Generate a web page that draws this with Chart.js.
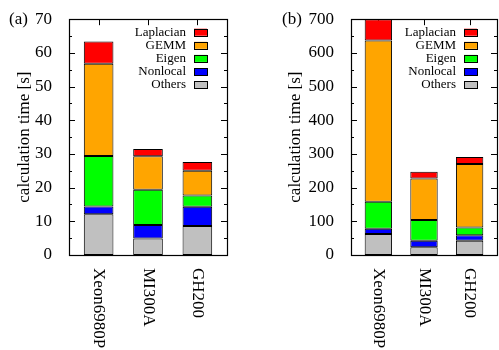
<!DOCTYPE html>
<html>
<head>
<meta charset="utf-8">
<script src="https://cdn.jsdelivr.net/npm/chart.js@4.4.0/dist/chart.umd.min.js"></script>
<style>
	body { margin: 0; background: #fff; }
	#wrap { position: relative; width: 499px; height: 350px; }
	#chartA { position: absolute; left: 0; top: 0; }
	#chartB { position: absolute; left: 250px; top: 0; }
</style>
</head>
<body>
<div id="wrap">
	<canvas id="chartA" width="250" height="350"></canvas>
	<canvas id="chartB" width="249" height="350"></canvas>
</div>
<script>

// machines on the x axis
var machines = ["Xeon6980P", "MI300A", "GH200"];
var xPos = [0, 1, 2];

// parts, stacked bottom to top
var parts = ["Others", "Nonlocal", "Eigen", "GEMM", "Laplacian"];
var partColors = ["#c0c0c0", "#0000ff", "#00ff00", "#ffa500", "#ff0000"];

// (a) calculation time [s]
var othersA    = [12.1, 4.9, 8.6];
var nonlocalA  = [2.3, 4.0, 5.7];
var eigenA     = [15.0, 10.5, 3.4];
var gemmA      = [27.4, 9.9, 7.3];
var laplacianA = [6.6, 2.2, 2.6];
var yMaxA = 70, yStepA = 10;

// (b) calculation time [s]
var othersB    = [62, 23, 42];
var nonlocalB  = [16, 19, 17];
var eigenB     = [80, 62, 23];
var gemmB      = [479, 123, 188];
var laplacianB = [63, 20, 21];
var yMaxB = 700, yStepB = 100;

var SERIF = "'Liberation Serif', 'DejaVu Serif', serif";

function toPoints(values){
	return values.map(function(v, i){ return { x: xPos[i], y: v }; });
}

// gnuplot-like frame, inward ticks, legend inside, rotated x labels
var gnuplotLook = {
	id: 'gnuplotLook',
	beforeDatasetsDraw: function(chart){
		var ctx = chart.ctx;
		var a = chart.chartArea;
		var ys = chart.scales.y;
		var xs = chart.scales.x;
		ctx.save();
		ctx.strokeStyle = "#000";
		ctx.lineWidth = 1;
		ctx.beginPath();
		ys.ticks.forEach(function(t, i){
			var py = Math.round(ys.getPixelForValue(t.value)) + 0.5;
			ctx.moveTo(a.left, py); ctx.lineTo(a.left + 6, py);
			ctx.moveTo(a.right, py); ctx.lineTo(a.right - 6, py);
			if (i < ys.ticks.length - 1){
				var my = Math.round(ys.getPixelForValue(t.value + chart.options.minorStep)) + 0.5;
				ctx.moveTo(a.left, my); ctx.lineTo(a.left + 3, my);
				ctx.moveTo(a.right, my); ctx.lineTo(a.right - 3, my);
			}
		});
		xPos.forEach(function(v){
			var px = Math.round(xs.getPixelForValue(v)) + 0.5;
			ctx.moveTo(px, a.top); ctx.lineTo(px, a.top + 6);
			ctx.moveTo(px, a.bottom); ctx.lineTo(px, a.bottom - 6);
		});
		ctx.stroke();
		ctx.restore();
	},
	afterDatasetsDraw: function(chart){
		var ctx = chart.ctx;
		var a = chart.chartArea;
		var xs = chart.scales.x;
		ctx.save();
		// frame
		ctx.strokeStyle = "#000";
		ctx.lineWidth = 1.2;
		ctx.strokeRect(Math.round(a.left) + 0.5, Math.round(a.top) + 0.5,
			Math.round(a.right - a.left), Math.round(a.bottom - a.top));

		// legend, top row = last dataset
		ctx.font = "13px " + SERIF;
		ctx.textAlign = "right";
		ctx.textBaseline = "middle";
		var n = chart.data.datasets.length;
		for (var i = 0; i < n; i++){
			var ds = chart.data.datasets[n - 1 - i];
			var cy = a.top + 13 + i * 13.1;
			var bx = a.right - 20 - 13;
			ctx.fillStyle = ds.backgroundColor;
			ctx.fillRect(bx, cy - 3.5, 13, 7);
			ctx.lineWidth = 1;
			ctx.strokeRect(bx + 0.5, Math.round(cy - 3.5) + 0.5, 13, 7);
			ctx.fillStyle = "#000";
			ctx.fillText(ds.label, bx - 8, cy);
		}

		// machine names, reading downwards
		ctx.font = "17px " + SERIF;
		ctx.textAlign = "left";
		machines.forEach(function(name, i){
			var px = xs.getPixelForValue(xPos[i]);
			ctx.save();
			ctx.translate(px, a.bottom + 13);
			ctx.rotate(Math.PI / 2);
			ctx.fillText(name, 0, 0);
			ctx.restore();
		});

		// panel tag
		ctx.textBaseline = "middle";
		ctx.fillText(chart.options.tag, chart.options.tagX, 20);
		ctx.restore();
	}
};

function init_chart_panel(el, series, yMax, yStep, yWidth, titlePad, padRight, tag, tagX){

	var datasets = parts.map(function(name, k){
		return {
			label: name,
			data: toPoints(series[k]),
			backgroundColor: partColors[k],
			borderColor: "#000",
			borderWidth: 1,
			borderSkipped: false,
			categoryPercentage: 1.0,
			barPercentage: 0.6
		};
	});

	var settings = {
		type: 'bar',
		data: { datasets: datasets },
		options: {
			responsive: false,
			animation: false,
			tag: tag,
			tagX: tagX,
			minorStep: yStep / 2,
			layout: { padding: { left: 0, right: padRight, top: 17, bottom: 95 } },
			plugins: {
				legend: { display: false },
				tooltip: { enabled: false }
			},
			scales: {
				x: {
					type: 'linear',
					stacked: true,
					offset: false,
					min: -0.6,
					max: 2.6,
					grid: { display: false },
					border: { display: false },
					ticks: { display: false },
					afterFit: function(s){ s.height = 0; }
				},
				y: {
					stacked: true,
					min: 0,
					max: yMax,
					grid: { display: false },
					border: { display: false },
					ticks: {
						stepSize: yStep,
						padding: 9,
						color: "#000",
						font: { family: SERIF, size: 17 }
					},
					title: {
						display: true,
						text: "calculation time [s]",
						color: "#000",
						font: { family: SERIF, size: 17 },
						padding: { top: titlePad, bottom: 0 }
					},
					afterFit: function(s){ s.width = yWidth; }
				}
			}
		},
		plugins: [gnuplotLook]
	};

	return new Chart(el, settings);
}

init_chart_panel(document.getElementById('chartA'),
	[othersA, nonlocalA, eigenA, gemmA, laplacianA],
	yMaxA, yStepA, 69, 14, 23, "(a)", 9);

init_chart_panel(document.getElementById('chartB'),
	[othersB, nonlocalB, eigenB, gemmB, laplacianB],
	yMaxB, yStepB, 101, 35, 2, "(b)", 32);

</script>
</body>
</html>
